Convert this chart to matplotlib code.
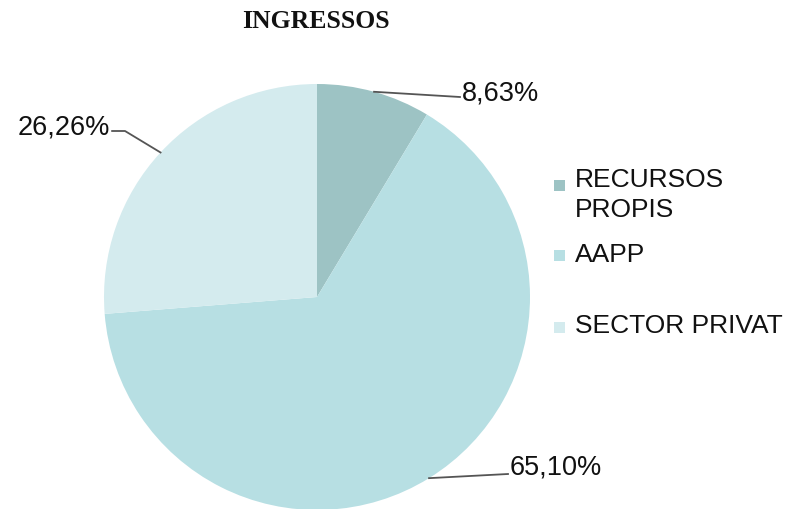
import numpy as np
import matplotlib.pyplot as plt
from matplotlib.patches import Rectangle

labels = ['RECURSOS\nPROPIS', 'AAPP', 'SECTOR PRIVAT']
values = [8.63, 65.10, 26.26]
colors = ['#9dc3c4', '#b7dfe3', '#d4ebee']
pct_text = ['8,63%', '65,10%', '26,26%']

W, H = 791, 509
fig = plt.figure(figsize=(W / 100, H / 100), dpi=100)
plt.rcParams['font.family'] = ['Liberation Sans', 'DejaVu Sans']

# pie: center (317, 297) px, radius 213 px
cx, cy, r = 317, 297, 213
ax = fig.add_axes([(cx - r) / W, (H - cy - r) / H, 2 * r / W, 2 * r / H])
wedges, _ = ax.pie(values, colors=colors, startangle=90, counterclock=False,
                   radius=1)
ax.set_xlim(-1, 1)
ax.set_ylim(-1, 1)
ax.set_aspect('equal')

def px(x, y):
    return ((x - cx) / r, (cy - y) / r)

# text anchor, elbow of leader line (pixels)
label_pos = [((462, 93), (460, 97), 'left'),
             ((510, 468), (508, 474), 'left'),
             ((110, 128), (125, 131), 'right')]

for w, txt, (tpos, elbow, ha) in zip(wedges, pct_text, label_pos):
    ang = np.deg2rad((w.theta1 + w.theta2) / 2)
    ex, ey = np.cos(ang), np.sin(ang)
    bx, by = px(*elbow)
    tx, ty = px(*tpos)
    xs, ys = [ex, bx], [ey, by]
    if ha == 'right':
        xs.append(tx + 0.01)
        ys.append(by)
    ax.plot(xs, ys, color='#555555', lw=1.3, clip_on=False)
    ax.text(tx, ty, txt, ha=ha, va='center', fontsize=19.5, color='#111111',
            clip_on=False)

fig.text(316 / W, 1 - 22 / H, 'INGRESSOS', ha='center', va='center',
         fontsize=18.5, fontweight='bold', family='Liberation Serif', color='#111111')

# legend
marker_y = [185, 255, 327]
text_top = [168, 243, 314]
for lab, col, y, t in zip(labels, colors, marker_y, text_top):
    fig.patches.append(Rectangle((554 / W, 1 - (y + 5.5) / H), 11 / W, 11 / H,
                                 transform=fig.transFigure, facecolor=col,
                                 edgecolor='none'))
    fig.text(575 / W, 1 - t / H, lab, ha='left', va='top',
             fontsize=19, color='#111111', linespacing=1.3)

fig.savefig('out.png', dpi=100)
